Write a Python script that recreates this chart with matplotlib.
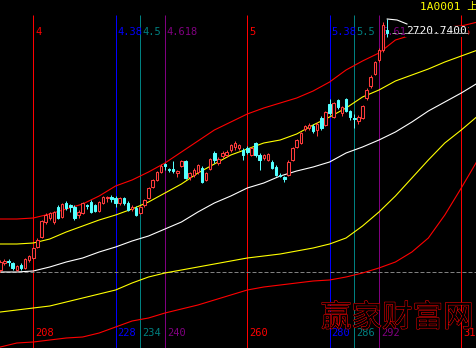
import matplotlib
matplotlib.use('Agg')
import matplotlib.pyplot as plt
import matplotlib.patheffects as pe
from matplotlib.patches import Rectangle

# daily candles for bars 200 .. 294
bar_start = 200
opens = [2010, 2031, 2036, 2031, 2010, 2025, 2016, 2040, 2046, 2079,
         2109, 2154, 2166, 2154, 2199, 2169, 2211, 2205, 2199, 2175,
         2181, 2205, 2214, 2205, 2187, 2211, 2226, 2229, 2226, 2211,
         2226, 2211, 2193, 2196, 2181, 2205, 2226, 2259, 2280, 2304,
         2328, 2313, 2313, 2301, 2322, 2337, 2289, 2295, 2304, 2316,
         2280, 2313, 2361, 2331, 2352, 2355, 2370, 2379, 2376, 2370,
         2376, 2355, 2391, 2355, 2346, 2340, 2334, 2319, 2295, 2289,
         2295, 2340, 2379, 2391, 2433, 2436, 2442, 2430, 2466, 2445,
         2508, 2469, 2520, 2481, 2523, 2487, 2466, 2457, 2466, 2526,
         2562, 2598, 2640, 2670, 2730]
highs = [2040, 2043, 2043, 2034, 2025, 2031, 2046, 2055, 2079, 2106,
         2160, 2181, 2184, 2187, 2205, 2211, 2217, 2208, 2205, 2190,
         2214, 2208, 2220, 2208, 2217, 2232, 2232, 2235, 2232, 2229,
         2229, 2217, 2205, 2202, 2202, 2223, 2259, 2283, 2307, 2328,
         2331, 2316, 2337, 2310, 2340, 2340, 2304, 2316, 2328, 2322,
         2304, 2346, 2367, 2349, 2367, 2370, 2388, 2397, 2388, 2376,
         2382, 2379, 2394, 2361, 2358, 2361, 2340, 2325, 2301, 2292,
         2340, 2379, 2403, 2424, 2445, 2451, 2448, 2454, 2472, 2487,
         2523, 2514, 2523, 2502, 2526, 2490, 2478, 2475, 2505, 2556,
         2595, 2637, 2676, 2754, 2763]
lows = [2004, 2025, 2022, 2010, 2007, 2010, 2013, 2034, 2043, 2076,
        2106, 2148, 2160, 2148, 2163, 2166, 2190, 2184, 2160, 2166,
        2178, 2193, 2181, 2184, 2184, 2208, 2214, 2214, 2199, 2205,
        2205, 2187, 2187, 2172, 2178, 2199, 2223, 2256, 2277, 2301,
        2310, 2304, 2301, 2289, 2319, 2283, 2280, 2289, 2298, 2271,
        2277, 2310, 2331, 2325, 2346, 2349, 2364, 2370, 2370, 2340,
        2358, 2352, 2349, 2310, 2340, 2337, 2313, 2292, 2289, 2274,
        2292, 2337, 2376, 2388, 2427, 2430, 2421, 2412, 2430, 2442,
        2475, 2466, 2493, 2472, 2484, 2460, 2436, 2448, 2463, 2520,
        2556, 2595, 2634, 2664, 2709]
closes = [2034, 2037, 2033, 2016, 2022, 2016, 2043, 2052, 2076, 2100,
          2157, 2175, 2181, 2184, 2166, 2208, 2196, 2199, 2166, 2184,
          2211, 2202, 2184, 2187, 2214, 2229, 2229, 2223, 2211, 2226,
          2211, 2190, 2199, 2175, 2199, 2220, 2256, 2280, 2304, 2322,
          2322, 2310, 2307, 2307, 2337, 2286, 2301, 2310, 2325, 2274,
          2301, 2343, 2340, 2343, 2361, 2364, 2385, 2391, 2385, 2355,
          2364, 2376, 2355, 2340, 2355, 2358, 2316, 2295, 2292, 2283,
          2334, 2376, 2400, 2421, 2442, 2445, 2427, 2448, 2436, 2484,
          2481, 2511, 2499, 2499, 2487, 2469, 2463, 2469, 2502, 2550,
          2589, 2634, 2670, 2745, 2720.74]

last_close = 2720.74
ref_price = 2004

# channel lines, read every 4 bars (200 .. 316)
band_bars = list(range(200, 317, 4))
upper_red = [2163, 2163, 2166, 2178, 2193, 2208, 2232, 2262, 2280, 2304,
             2331, 2364, 2397, 2430, 2454, 2478, 2496, 2511, 2526, 2547,
             2574, 2610, 2637, 2661, 2700, 2715, 2730, 2739, 2742, 2754]
upper_yellow = [2088, 2088, 2091, 2103, 2124, 2142, 2160, 2175, 2193, 2214,
                2241, 2268, 2301, 2328, 2355, 2373, 2391, 2400, 2418, 2445,
                2469, 2496, 2529, 2550, 2577, 2595, 2613, 2634, 2652, 2670]
mid_white = [2004, 2004, 2007, 2019, 2034, 2046, 2064, 2079, 2097, 2112,
             2133, 2154, 2184, 2211, 2232, 2256, 2271, 2292, 2307, 2319,
             2334, 2361, 2379, 2400, 2424, 2454, 2487, 2514, 2541, 2571]
lower_yellow = [1884, 1890, 1896, 1902, 1914, 1926, 1938, 1950, 1971, 1989,
                2001, 2010, 2019, 2028, 2037, 2046, 2052, 2058, 2067, 2076,
                2088, 2106, 2142, 2184, 2232, 2286, 2340, 2391, 2430, 2472]
lower_red = [1779, 1791, 1794, 1800, 1806, 1809, 1821, 1839, 1857, 1866,
             1881, 1893, 1905, 1920, 1935, 1950, 1959, 1965, 1971, 1977,
             1980, 1989, 2001, 2016, 2034, 2064, 2106, 2175, 2256, 2340]

# fibonacci time lines
time_bars = [208, 228, 234, 240, 260, 280, 286, 292, 312]
time_ratios = ['4', '4.38', '4.5', '4.618', '5', '5.38', '5.5', '5.618', '6']
time_colors = ['#ff0000', '#0000ff', '#008080', '#800080',
               '#ff0000', '#0000ff', '#008080', '#800080', '#ff0000']

up_col = '#ff3c3c'
down_col = '#54ffff'
px = 0.72   # one pixel at 100 dpi

fig = plt.figure(figsize=(4.76, 3.48), dpi=100, facecolor='black')
ax = fig.add_axes([0, 0, 1, 1])
ax.set_facecolor('black')
ax.set_xlim(199.91, 315.58)
ax.set_ylim(1776, 2820)
ax.axis('off')

mono = ['DejaVu Sans Mono', 'Noto Sans CJK SC']

# time lines + labels
ax.vlines(time_bars, 1776, 2775, colors=time_colors, lw=px, zorder=1, snap=True)
for b, r, c in zip(time_bars, time_ratios, time_colors):
    ax.text(b + 0.45, 2724, r, color=c, fontsize=7.5, family=mono,
            va='center', ha='left', zorder=2)
    ax.text(b + 0.45, 1822, str(b), color=c, fontsize=7.5, family=mono,
            va='center', ha='left', zorder=2)

# grey dashed reference line
ax.axhline(ref_price, color='#808080', lw=px, dashes=(4, 2), zorder=1, snap=True)

# channel lines
for vals, col in [(upper_red, '#ff0000'), (upper_yellow, '#ffff00'),
                  (mid_white, '#ffffff'), (lower_yellow, '#ffff00'),
                  (lower_red, '#ff0000')]:
    ax.plot(band_bars, vals, color=col, lw=0.8, zorder=3)

# candles
w = 0.6
for k in range(len(opens)):
    x = bar_start + k
    o, h, l, c = opens[k], highs[k], lows[k], closes[k]
    if c >= o:
        ax.vlines(x, l, h, color=up_col, lw=px, zorder=4, snap=True)
        ax.add_patch(Rectangle((x - w / 2, o), w, max(c - o, 0.5),
                               facecolor='black', edgecolor=up_col, lw=0.75, zorder=5))
    else:
        ax.vlines(x, l, h, color=down_col, lw=px, zorder=4, snap=True)
        ax.add_patch(Rectangle((x - w / 2, c), w, max(o - c, 0.5),
                               facecolor=down_col, edgecolor=down_col, lw=0.75, zorder=5))

# pointer from the top of the last bar to the price tag
last_bar = bar_start + len(opens) - 1
ax.plot([last_bar, last_bar + 2.4, last_bar + 4.8],
        [highs[-1], highs[-1] - 3, highs[-1] - 15], color='white', lw=0.8, zorder=6)

# last price tag
ax.text(298.6, 2717, '%.4f' % last_close, color='white', fontsize=8, family=mono,
        va='baseline', ha='left', zorder=6,
        bbox=dict(facecolor='black', edgecolor='none', pad=0.5))
ax.plot([295.2, 314.1], [last_close, last_close], color='#a0a0a0', lw=px,
        dashes=(4, 2), zorder=7, snap=True)

# code title
ax.text(302.0, 2814, '1A0001 上', color='#ffff00', fontsize=8, family=mono,
        va='top', ha='left', zorder=6)

# watermark
ax.text(296.4, 1866, '赢家财富网', color='black', fontsize=22,
        family=['Noto Sans CJK SC'], ha='center', va='center', zorder=8,
        path_effects=[pe.Stroke(linewidth=0.7, foreground='#ff0000'), pe.Normal()])

fig.savefig('out.png', dpi=100, facecolor='black')
